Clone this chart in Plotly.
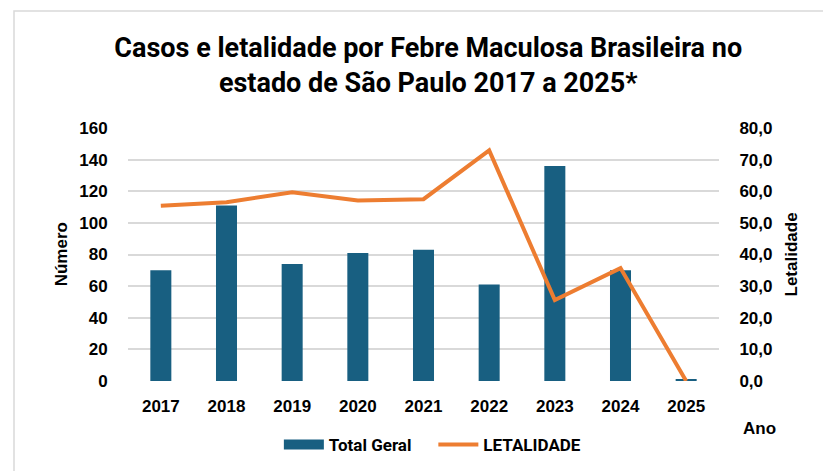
import plotly.graph_objects as go

anos = ["2017", "2018", "2019", "2020", "2021", "2022", "2023", "2024", "2025"]
total_geral = [70, 111, 74, 81, 83, 61, 136, 70, 1]
letalidade = [55.4, 56.5, 59.7, 57.1, 57.5, 72.9, 25.6, 35.7, 0.0]
left_ticks = [0, 20, 40, 60, 80, 100, 120, 140, 160]
right_ticks = [0, 10, 20, 30, 40, 50, 60, 70, 80]
right_labels = ["0,0", "10,0", "20,0", "30,0", "40,0", "50,0", "60,0", "70,0", "80,0"]

BAR = "#185f81"
LINE = "#ed7d31"
GRID = "#d9d9d9"
TF = dict(family="Liberation Sans, Arial, sans-serif", size=17, color="#000000")
TFB = dict(TF, weight="bold")
LF = dict(family="Roboto, sans-serif", size=17, color="#000000", weight="bold")

fig = go.Figure()
fig.add_trace(go.Bar(x=anos, y=total_geral, name="Total Geral", marker_color=BAR,
                     marker_line_width=0, width=0.32, yaxis="y", showlegend=False))
# legend-only swatch for the bar series (wide rectangular key like the original)
fig.add_trace(go.Scatter(x=[None], y=[None], name="Total Geral\u00a0\u00a0\u00a0\u00a0", mode="lines",
                         line=dict(color=BAR, width=10), yaxis="y"))
fig.add_trace(go.Scatter(x=anos, y=letalidade, name="LETALIDADE", mode="lines",
                         line=dict(color=LINE, width=4), yaxis="y2"))

fig.update_layout(
    width=823, height=471,
    margin=dict(l=128, r=104, t=128, b=90, autoexpand=False),
    paper_bgcolor="white", plot_bgcolor="white",
    font=TF,
    title=dict(text="<b>Casos e letalidade por Febre Maculosa Brasileira no<br>estado de São Paulo 2017 a 2025*</b>",
               x=0.508, xref="paper", xanchor="center", y=1 - 57 / 471, yanchor="middle",
               font=dict(family="Roboto, sans-serif", size=27, color="#000000")),
    xaxis=dict(type="category", showgrid=False, showline=False, zeroline=False, automargin=False,
               ticks="outside", ticklen=10, tickcolor="rgba(0,0,0,0)", tickfont=TFB),
    yaxis=dict(range=[0, 160], tickvals=left_ticks, showgrid=True, gridcolor=GRID, gridwidth=1.5,
               zeroline=False, showline=False, ticks="outside", ticklen=16, automargin=False,
               tickcolor="rgba(0,0,0,0)", tickfont=TFB),
    yaxis2=dict(range=[0, 80], tickvals=right_ticks, ticktext=right_labels, overlaying="y",
                side="right", showgrid=False, zeroline=False, showline=False, automargin=False,
                ticks="outside", ticklen=16, tickcolor="rgba(0,0,0,0)", tickfont=TFB),
    legend=dict(orientation="h", x=0.515, xanchor="center", y=-0.253, yanchor="middle",
                font=LF, itemwidth=40, traceorder="normal"),
    showlegend=True,
)

fig.add_annotation(text="<b>Número</b>", xref="paper", yref="paper", x=-0.112, y=0.5,
                   xanchor="center", yanchor="middle",
                   textangle=-90, showarrow=False, font=TF)
fig.add_annotation(text="<b>Letalidade</b>", xref="paper", yref="paper", x=1.1235, y=0.5,
                   xanchor="center", yanchor="middle",
                   textangle=-90, showarrow=False, font=TF)
fig.add_annotation(text="<b>Ano</b>", xref="paper", yref="paper", x=1.068, y=-0.186,
                   xanchor="center", yanchor="middle", showarrow=False, font=TF)

fig.add_shape(type="rect", xref="paper", yref="paper",
              x0=(14 - 128) / 591, x1=1.3, y0=-0.6, y1=(381 - 11) / 253,
              line=dict(color="#d9d9d9", width=1.5), fillcolor="rgba(0,0,0,0)", layer="below")

fig.write_html("out.html", config={"displayModeBar": False},
               post_script="document.body.style.margin='0';document.body.style.overflow='hidden';")
